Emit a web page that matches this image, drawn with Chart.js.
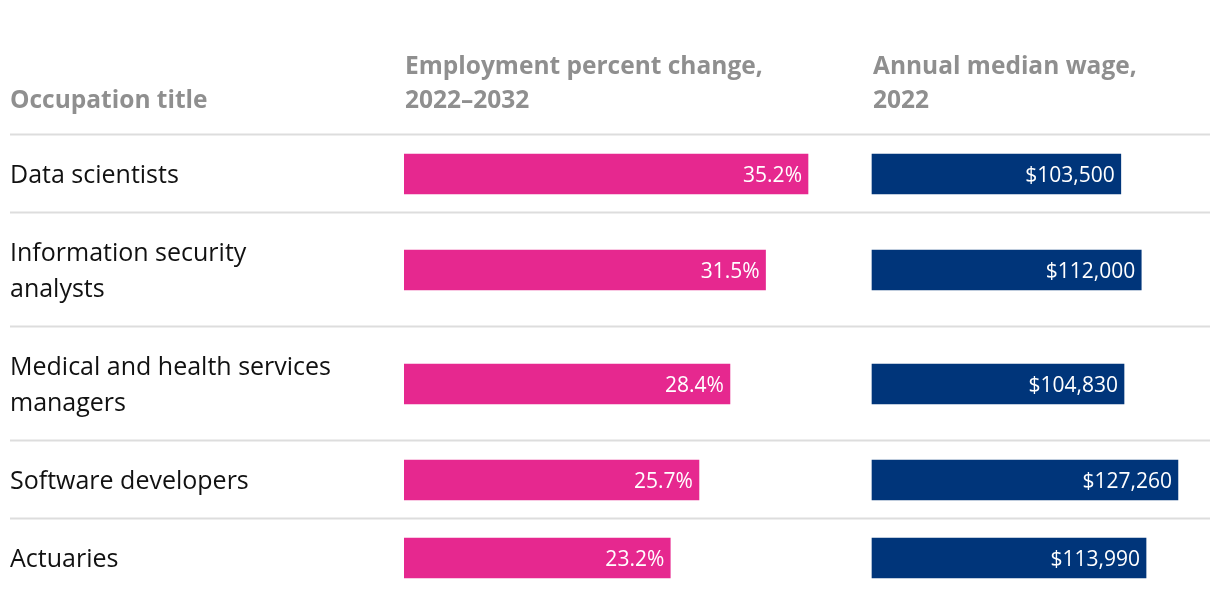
<!DOCTYPE html>
<html>
<head>
<meta charset="utf-8">
<script src="https://cdn.jsdelivr.net/npm/chart.js@4.4.0/dist/chart.umd.min.js"></script>
<style>
  html, body { margin: 0; padding: 0; background: #ffffff; }
  #wrap { width: 1220px; height: 606px; position: relative; }
</style>
</head>
<body>
<div id="wrap"><canvas id="c" width="1220" height="606"></canvas></div>
<script>
// ---- data ----
const categories = [
  ["Data scientists"],
  ["Information security", "analysts"],
  ["Medical and health services", "managers"],
  ["Software developers"],
  ["Actuaries"]
];
const percentChange = [35.2, 31.5, 28.4, 25.7, 23.2];
const medianWage = [103500, 112000, 104830, 127260, 113990];
const headerOccupation = ["Occupation title"];
const headerPercent = ["Employment percent change,", "2022\u20132032"];
const headerWage = ["Annual median wage,", "2022"];

// ---- layout helpers (row geometry from label line counts) ----
const LINE_H = 36, ROW_PAD = 42;
const rowHeights = categories.map(c => ROW_PAD + LINE_H * c.length);
const rowStarts = [];
let acc = 0;
rowHeights.forEach(h => { rowStarts.push(acc); acc += h; });
const totalH = acc;
const rowCenters = rowStarts.map((s, i) => s + rowHeights[i] / 2);

const FONT = "'Open Sans', 'Source Sans Pro', Lato, sans-serif";
const PINK = "#e6288f";
const BLUE = "#00357a";

const fmtPct = v => v.toFixed(1) + "%";
const fmtWage = v => "$" + v.toLocaleString("en-US");

const tablePlugin = {
  id: "tablePlugin",
  beforeDatasetsDraw(chart) {
    const ctx = chart.ctx;
    const y = chart.scales.y;
    ctx.save();
    ctx.strokeStyle = "#dddddd";
    ctx.lineWidth = 2;
    rowStarts.forEach(s => {
      const py = Math.round(y.getPixelForValue(s)) - 0.5;
      ctx.beginPath();
      ctx.moveTo(10, py);
      ctx.lineTo(1210, py);
      ctx.stroke();
    });
    // headers
    ctx.fillStyle = "#8f8f8f";
    ctx.font = "bold 24.5px " + FONT;
    ctx.textBaseline = "middle";
    ctx.textAlign = "left";
    const hdrBottom = 101, hdrLine = 34;
    const drawHeader = (lines, x) => {
      lines.forEach((t, i) => {
        ctx.fillText(t, x, hdrBottom - (lines.length - 1 - i) * hdrLine);
      });
    };
    drawHeader(headerOccupation, 10);
    drawHeader(headerPercent, chart.scales.xp.getPixelForValue(0) + 1);
    drawHeader(headerWage, chart.scales.xw.getPixelForValue(0) + 1);
    // category labels
    ctx.fillStyle = "#111111";
    ctx.font = "25px " + FONT;
    categories.forEach((lines, i) => {
      const c = y.getPixelForValue(rowCenters[i]) + 1.5;
      lines.forEach((t, j) => {
        const off = (j - (lines.length - 1) / 2) * LINE_H;
        ctx.fillText(t, 10, c + off);
      });
    });
    ctx.restore();
  },
  afterDatasetsDraw(chart) {
    const ctx = chart.ctx;
    ctx.save();
    ctx.fillStyle = "#ffffff";
    ctx.font = "21px " + FONT;
    ctx.textAlign = "right";
    ctx.textBaseline = "middle";
    chart.data.datasets.forEach((ds, di) => {
      const meta = chart.getDatasetMeta(di);
      meta.data.forEach((el, i) => {
        ctx.fillText(ds.fmt(ds.raw[i]), el.x - 6, el.y + 2);
      });
    });
    ctx.restore();
  }
};

new Chart(document.getElementById("c"), {
  type: "bar",
  data: {
    datasets: [
      {
        label: "Employment percent change, 2022\u20132032",
        data: percentChange.map((v, i) => ({ x: v, y: rowCenters[i] })),
        raw: percentChange, fmt: fmtPct,
        backgroundColor: PINK,
        xAxisID: "xp",
        barThickness: 40,
        grouped: false
      },
      {
        label: "Annual median wage, 2022",
        data: medianWage.map((v, i) => ({ x: v, y: rowCenters[i] })),
        raw: medianWage, fmt: fmtWage,
        backgroundColor: BLUE,
        xAxisID: "xw",
        barThickness: 40,
        grouped: false
      }
    ]
  },
  options: {
    indexAxis: "y",
    responsive: false,
    animation: false,
    layout: { padding: { left: 404, right: 10, top: 135, bottom: 9 } },
    plugins: { legend: { display: false }, tooltip: { enabled: false } },
    scales: {
      y: { type: "linear", min: 0, max: totalH, reverse: true, offset: false, display: false },
      xp: { type: "linear", position: "bottom", min: 0, max: 806 / 11.477, display: false },
      xw: { type: "linear", position: "top", min: -468 / 0.002404, max: 338 / 0.002404, display: false }
    }
  },
  plugins: [tablePlugin]
});
</script>
</body>
</html>
